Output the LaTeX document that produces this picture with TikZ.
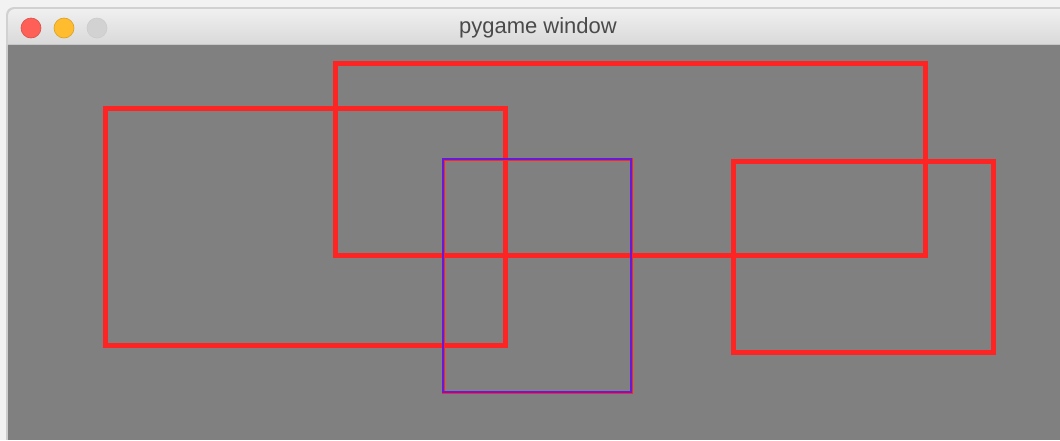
\documentclass[tikz,border=0pt]{standalone}
\usepackage{fontspec}
\setmainfont{Liberation Sans}
\usetikzlibrary{positioning}
\definecolor{screen}{HTML}{808080}
\definecolor{rectred}{HTML}{FF2424}
\definecolor{rectblue}{HTML}{6A18D8}
\definecolor{closered}{HTML}{FE5F57}
\definecolor{minyellow}{HTML}{FEBC2E}
\definecolor{zoomgray}{HTML}{D2D2D2}
\definecolor{titlegray}{HTML}{4A4A4A}
\tikzset{
  light/.style={circle,minimum size=20pt,inner sep=0pt,draw=black!20,line width=0.6pt},
  redbox/.style={draw=rectred,line width=5pt,inner sep=0pt,outer sep=0pt,anchor=north west},
  purplebox/.style={draw=rectred,line width=3pt,inner sep=0pt,outer sep=0pt,anchor=north west}
}

\begin{document}
\begin{tikzpicture}[x=1pt,y=-1pt]
\useasboundingbox (0,0) rectangle (1060,440);
\fill[black!5] (0,0) rectangle (1060,440);

% window frame and title bar
\fill[black!18] (6,47) [rounded corners=8pt]-- (6,7) [sharp corners]-- (1062,7) -- (1062,47) -- cycle;
\shade[top color=black!6,bottom color=black!15] (8,45) [rounded corners=7pt]-- (8,9) [sharp corners]-- (1062,9) -- (1062,45) -- cycle;
\fill[black!22] (8,43.5) rectangle (1062,45);
\fill[black!20] (6,45) rectangle (8,440);
\fill[screen] (8,45) rectangle (1062,440);

\node[light,fill=closered,draw=closered!85!black] (close) at (31,28) {};
\node[light,fill=minyellow,draw=minyellow!85!black] (minimize) [right of=close,node distance=33pt] {};
\node[light,fill=zoomgray] (zoom) [right of=minimize,node distance=33pt] {};
\node[text=titlegray,font=\fontsize{22}{26}\selectfont] (title) at (538,28) {pygame window};

% rectangles
\node[redbox,minimum width=400pt,minimum height=237pt] (boxa) at (105,108) {};
\node[redbox,minimum width=590pt,minimum height=192pt] (boxb) at (335,63) {};
\node[redbox,minimum width=260pt,minimum height=191pt] (boxc) at (733,161) {};
\node[purplebox,minimum width=188pt,minimum height=233pt] (boxd) at (443,159) {};
\draw[rectblue,line width=1.6pt] (boxd.north west) rectangle (boxd.south east);
\end{tikzpicture}
\end{document}
